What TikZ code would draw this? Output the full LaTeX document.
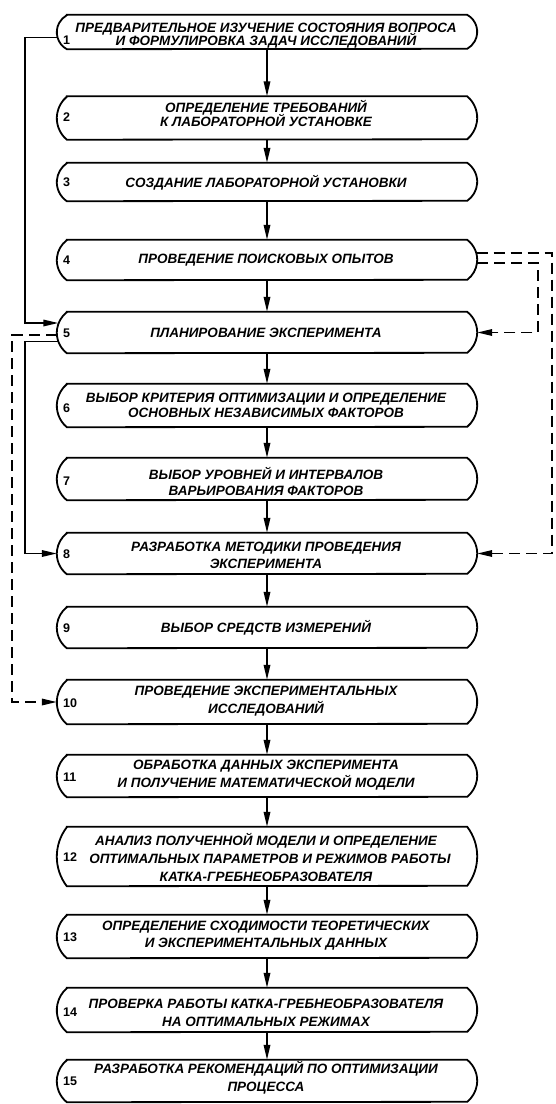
\documentclass[tikz,border=0pt]{standalone}
\usepackage{fontspec}
\setmainfont{Liberation Sans}
\usetikzlibrary{arrows.meta,calc}
\newcommand\tightlines{\lineskiplimit=-100pt\relax\lineskip=0pt\relax}
\tikzset{
  boxnode/.style={draw=none, rectangle, minimum width=420pt, inner sep=0pt},
  boxline/.style={line width=1.8pt, black},
  textnode/.style={inner sep=0pt, align=center},
  numnode/.style={anchor=west, inner sep=0pt, font=\fontsize{12.5}{12.5}\selectfont\bfseries},
  arr/.style={line width=1.7pt, -{Triangle[length=15pt,width=6.5pt]}},
  darr/.style={line width=1.7pt, dash pattern=on 11pt off 6pt, -{Triangle[length=15pt,width=6.5pt]}},
}
% #1 name, #2 box centre y, #3 height, #4 number, #5 leading, #6 text centre y, #7 number y, #8 text
\newcommand\flowbox[8]{%
  \node[boxnode, minimum height=#3pt] (#1) at (267,-#2) {};
  \pgfmathsetmacro\bxr{((#3/2)^2+100)/20}%
  \pgfmathsetmacro\bxa{asin((#3/2)/\bxr)}%
  \draw[boxline] ([xshift=10pt]#1.north west) -- ([xshift=-10pt]#1.north east)
     arc[start angle=\bxa, end angle=-\bxa, radius=\bxr pt]
     -- ([xshift=10pt]#1.south west)
     arc[start angle=180+\bxa, end angle=180-\bxa, radius=\bxr pt] -- cycle;
  \node[textnode, font=\fontsize{13.5}{#5}\selectfont\bfseries\itshape\tightlines] (#1t) at (266,-#6) {#8};
  \node[numnode] (#1n) at (63,-#7) {#4};
}
\begin{document}
\begin{tikzpicture}[x=1pt,y=1pt]
\useasboundingbox (0,0) rectangle (555,-1104);
\flowbox{b1}{32}{34}{1}{13.3}{35.5}{40}{ПРЕДВАРИТЕЛЬНОЕ ИЗУЧЕНИЕ СОСТОЯНИЯ ВОПРОСА\\И ФОРМУЛИРОВКА ЗАДАЧ ИССЛЕДОВАНИЙ}
\flowbox{b2}{118}{43}{2}{13.8}{113.6}{117.5}{ОПРЕДЕЛЕНИЕ ТРЕБОВАНИЙ\\К ЛАБОРАТОРНОЙ УСТАНОВКЕ}
\flowbox{b3}{182}{38}{3}{13.5}{182.5}{182.5}{СОЗДАНИЕ ЛАБОРАТОРНОЙ УСТАНОВКИ}
\flowbox{b4}{260}{40}{4}{13.5}{260}{260}{ПРОВЕДЕНИЕ ПОИСКОВЫХ ОПЫТОВ}
\flowbox{b5}{332.5}{41}{5}{13.5}{333}{333}{ПЛАНИРОВАНИЕ ЭКСПЕРИМЕНТА}
\flowbox{b6}{405.5}{43}{6}{15}{405.5}{408}{ВЫБОР КРИТЕРИЯ ОПТИМИЗАЦИИ И ОПРЕДЕЛЕНИЕ\\ОСНОВНЫХ НЕЗАВИСИМЫХ ФАКТОРОВ}
\flowbox{b7}{479}{42}{7}{16.7}{481.5}{481}{ВЫБОР УРОВНЕЙ И ИНТЕРВАЛОВ\\ВАРЬИРОВАНИЯ ФАКТОРОВ}
\flowbox{b8}{553.5}{41}{8}{16.7}{555}{554}{РАЗРАБОТКА МЕТОДИКИ ПРОВЕДЕНИЯ\\ЭКСПЕРИМЕНТА}
\flowbox{b9}{627.5}{41}{9}{13.5}{628}{628}{ВЫБОР СРЕДСТВ ИЗМЕРЕНИЙ}
\flowbox{b10}{702}{44}{10}{18}{701}{703}{ПРОВЕДЕНИЕ ЭКСПЕРИМЕНТАЛЬНЫХ\\ИССЛЕДОВАНИЙ}
\flowbox{b11}{776}{42}{11}{18}{775}{777}{ОБРАБОТКА ДАННЫХ ЭКСПЕРИМЕНТА\\И ПОЛУЧЕНИЕ МАТЕМАТИЧЕСКОЙ МОДЕЛИ}
\flowbox{b12}{856.5}{59}{12}{18.3}{857.5}{857.5}{АНАЛИЗ ПОЛУЧЕННОЙ МОДЕЛИ И ОПРЕДЕЛЕНИЕ\\\hspace*{8pt}ОПТИМАЛЬНЫХ ПАРАМЕТРОВ И РЕЖИМОВ РАБОТЫ\\КАТКА-ГРЕБНЕОБРАЗОВАТЕЛЯ}
\flowbox{b13}{936.5}{43}{13}{17}{935.5}{937}{ОПРЕДЕЛЕНИЕ СХОДИМОСТИ ТЕОРЕТИЧЕСКИХ\\И ЭКСПЕРИМЕНТАЛЬНЫХ ДАННЫХ}
\flowbox{b14}{1010}{44}{14}{18}{1013}{1012}{ПРОВЕРКА РАБОТЫ КАТКА-ГРЕБНЕОБРАЗОВАТЕЛЯ\\НА ОПТИМАЛЬНЫХ РЕЖИМАХ}
\flowbox{b15}{1081}{42}{15}{18}{1078}{1081}{РАЗРАБОТКА РЕКОМЕНДАЦИЙ ПО ОПТИМИЗАЦИИ\\ПРОЦЕССА}
% vertical chain
\foreach \a/\b in {b1/b2,b2/b3,b3/b4,b4/b5,b5/b6,b6/b7,b7/b8,b8/b9,b9/b10,b10/b11,b11/b12,b12/b13,b13/b14,b14/b15}
  \draw[arr] (\a) -- (\b);
% left solid feedbacks
\coordinate (s1) at ($(b1.west)+(0.5,-5.5)$);
\coordinate (s5in) at ($(b5.west)+(1.5,9.5)$);
\coordinate (s5out) at ($(b5.west)+(1,-9)$);
\draw[arr] (s1) -- (s1 -| 25,0) -- (s5in -| 25,0) -- (s5in);
\draw[arr] (s5out) -- (s5out -| 25,0) -- (b8.west -| 25,0) -- (b8.west);
% left dashed
\coordinate (d5out) at ($(b5.west)+(0,-2.5)$);
\draw[darr] (d5out) -- (d5out -| 12,0) -- (b10.west -| 12,0) -- (b10.west);
% right dashed from 4
\coordinate (r4a) at ($(b4.east)+(-0.5,7)$);
\coordinate (r4b) at ($(b4.east)+(0,-3)$);
\draw[darr] (r4a) -- (r4a -| 552,0) -- (b8.east -| 552,0) -- (b8.east);
\draw[darr] (r4b) -- (r4b -| 538,0) -- (b5.east -| 538,0) -- (b5.east);
\end{tikzpicture}
\end{document}
